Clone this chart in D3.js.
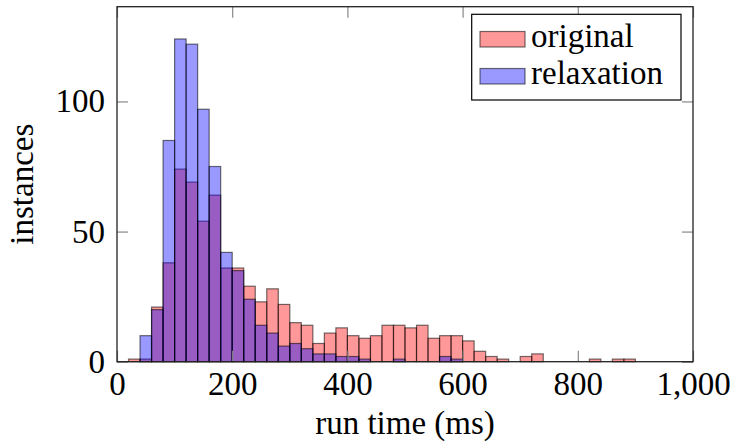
<!DOCTYPE html>
<html>
<head>
<meta charset="utf-8">
<script src="https://cdn.jsdelivr.net/npm/d3@7"></script>
<style>
  body { margin: 0; background: #fff; }
  svg text { font-family: "Liberation Serif", "DejaVu Serif", serif; fill: #000; }
</style>
</head>
<body>
<div id="chart"></div>
<script>
var binWidth = 20;
var binStarts = [0, 20, 40, 60, 80, 100, 120, 140, 160, 180,
                 200, 220, 240, 260, 280, 300, 320, 340, 360, 380,
                 400, 420, 440, 460, 480, 500, 520, 540, 560, 580,
                 600, 620, 640, 660, 680, 700, 720, 740, 760, 780,
                 800, 820, 840, 860, 880, 900, 920, 940, 960, 980];
var original   = [0, 1, 1, 21, 38, 74, 69, 54, 64, 36,
                  36, 29, 23, 28, 22, 15, 14, 7, 11, 13,
                  10, 9, 10, 14, 14, 13, 14, 9, 10, 10,
                  8, 4, 2, 1, 0, 2, 3, 0, 0, 0,
                  0, 1, 0, 1, 1, 0, 0, 0, 0, 0];
var relaxation = [0, 0, 10, 20, 85, 124, 122, 97, 75, 42,
                  35, 24, 14, 11, 6, 7, 5, 3, 3, 2,
                  2, 1, 0, 0, 1, 0, 0, 0, 2, 1,
                  0, 0, 0, 0, 0, 0, 0, 0, 0, 0,
                  0, 0, 0, 0, 0, 0, 0, 0, 0, 0];
var xTicks = [0, 200, 400, 600, 800, 1000];
var yTicks = [0, 50, 100];

var width = 731, height = 447;
var margin = {left: 117, right: 38, top: 6.7, bottom: 85.3};
var plotW = width - margin.left - margin.right;
var plotH = height - margin.top - margin.bottom;

var svg = d3.select("#chart").append("svg").attr("width", width).attr("height", height);
var g = svg.append("g").attr("transform", "translate(" + margin.left + "," + margin.top + ")");

var x = d3.scaleLinear().domain([0, 1000]).range([0, plotW]);
var y = d3.scaleLinear().domain([0, 136.4]).range([plotH, 0]);

function drawBars(values, color) {
    var data = binStarts.map(function(b, i) { return {x0: b, n: values[i]}; })
                        .filter(function(d) { return d.n > 0; });
    g.append("g").selectAll("rect").data(data).enter().append("rect")
        .attr("x", function(d) { return x(d.x0); })
        .attr("width", function(d) { return x(d.x0 + binWidth) - x(d.x0); })
        .attr("y", function(d) { return y(d.n); })
        .attr("height", function(d) { return y(0) - y(d.n); })
        .attr("fill", color).attr("fill-opacity", 0.4)
        .attr("stroke", "#000").attr("stroke-opacity", 0.55).attr("stroke-width", 1.2);
}

drawBars(original, "red");
drawBars(relaxation, "blue");

var fontSize = "33px";

var xAxis = g.append("g").attr("transform", "translate(0," + plotH + ")")
    .call(d3.axisBottom(x).tickValues(xTicks).tickFormat(d3.format(",")).tickSize(-11).tickPadding(10));
var xTop = g.append("g")
    .call(d3.axisTop(x).tickValues(xTicks).tickFormat("").tickSize(-11));
var yAxis = g.append("g")
    .call(d3.axisLeft(y).tickValues(yTicks).tickSize(-11).tickPadding(12));
var yRight = g.append("g").attr("transform", "translate(" + plotW + ",0)")
    .call(d3.axisRight(y).tickValues(yTicks).tickFormat("").tickSize(-11));

[xAxis, xTop, yAxis, yRight].forEach(function(a) {
    a.select(".domain").remove();
    a.selectAll(".tick line").attr("stroke", "#888").attr("stroke-width", 1.2);
    a.selectAll(".tick text").style("font-size", fontSize).attr("fill", "#000");
});

g.append("rect").attr("width", plotW).attr("height", plotH)
    .attr("fill", "none").attr("stroke", "#222").attr("stroke-width", 1.3);

// axis titles
svg.append("text").attr("x", margin.left + plotW / 2).attr("y", 434)
    .attr("text-anchor", "middle").style("font-size", fontSize).text("run time (ms)");
svg.append("text").attr("transform", "translate(33," + (margin.top + plotH / 2) + ") rotate(-90)")
    .attr("text-anchor", "middle").style("font-size", fontSize).text("instances");

// legend
var legend = svg.append("g");
legend.append("rect").attr("x", 471.7).attr("y", 14.3).attr("width", 209.3).attr("height", 85.7)
    .attr("fill", "#fff").attr("stroke", "#000").attr("stroke-width", 1.2);
var entries = [{name: "original", color: "red"}, {name: "relaxation", color: "blue"}];
entries.forEach(function(e, i) {
    var base = 47 + i * 37;
    legend.append("rect").attr("x", 480).attr("y", base - 15.5).attr("width", 45).attr("height", 15.5)
        .attr("fill", e.color).attr("fill-opacity", 0.4)
        .attr("stroke", "#000").attr("stroke-opacity", 0.55).attr("stroke-width", 1.2);
    legend.append("text").attr("x", 531).attr("y", base).style("font-size", fontSize).text(e.name);
});
</script>
</body>
</html>
